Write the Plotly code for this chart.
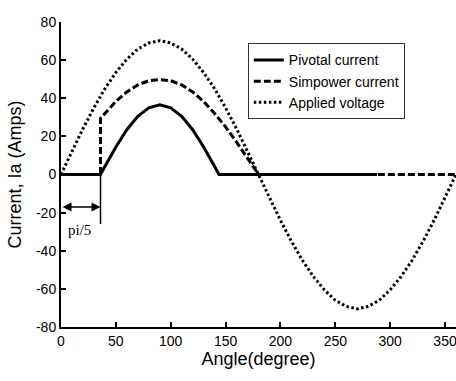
import plotly.graph_objects as go

# Applied voltage (read every 10 degrees)
volt_angle = list(range(0, 361, 10))
volt_values = [0, 12, 24, 35, 45, 53.5, 60.5, 65.8, 69, 70.2, 69, 65.8, 60.5, 53.5, 45, 35, 24, 12,
               0, -12, -24, -35, -45, -53.5, -60.5, -66, -69.2, -70.5, -69.2, -66, -60.5, -53.5, -45,
               -35, -24, -12, 0]

# Simpower current
sim_angle = [0, 36, 36, 40, 50, 60, 70, 80, 90, 100, 110, 120, 130, 140, 150, 160, 170, 180, 360]
sim_values = [0, 0, 29.5, 32, 38.3, 43.3, 47, 49.2, 49.8, 49.2, 47, 43.3, 38.3, 32, 25, 17, 8.7, 0, 0]

# Pivotal current
piv_angle = [0, 36, 40, 50, 60, 70, 80, 90, 100, 110, 120, 130, 140, 144, 288]
piv_values = [0, 0, 4.2, 14.4, 23.5, 30.5, 35, 36.5, 35, 30.5, 23.5, 14.4, 4.2, 0, 0]

# annotation values
pi5_angle = 36
arrow_level = -17
marker_bottom = -26
label_angle = 17
label_level = -29

x_ticks = [0, 50, 100, 150, 200, 250, 300, 350]
x_tick_text = ["0", "50", "100", "150", "200", "250", "300", "350"]
y_ticks = [-80, -60, -40, -20, 0, 20, 40, 60, 80]
y_tick_text = ["-80", "-60", "-40", "-20", "0", "20", "40", "60", "80"]

fig = go.Figure()
fig.add_trace(go.Scatter(x=piv_angle, y=piv_values, mode="lines", name="Pivotal current",
                         line=dict(color="black", width=3)))
fig.add_trace(go.Scatter(x=sim_angle, y=sim_values, mode="lines", name="Simpower current",
                         line=dict(color="black", width=3, dash="7px,3px")))
fig.add_trace(go.Scatter(x=volt_angle, y=volt_values, mode="lines", name="Applied voltage",
                         line=dict(color="black", width=3, dash="2.5px,2.5px")))

# vertical marker line at pi/5
fig.add_shape(type="line", x0=pi5_angle, x1=pi5_angle, y0=0, y1=marker_bottom,
              xref="x", yref="y", line=dict(color="black", width=1.5))
# double arrow
fig.add_annotation(x=pi5_angle, y=arrow_level, ax=0, ay=arrow_level, xref="x", yref="y",
                   axref="x", ayref="y", showarrow=True, arrowhead=2, startarrowhead=2,
                   arrowside="end+start", arrowwidth=1.5, arrowsize=1.2, arrowcolor="black", text="")
fig.add_annotation(x=label_angle, y=label_level, xref="x", yref="y", showarrow=False,
                   text="pi/5", font=dict(family="Liberation Serif, Times New Roman, serif",
                                          size=15, color="black"))

tick_font = dict(family="Liberation Sans, Arial", size=14, color="black")
title_font = dict(family="Liberation Sans, Arial", size=18, color="black")

fig.update_layout(
    width=456, height=381,
    margin=dict(l=61, r=0, t=22, b=54),
    paper_bgcolor="white", plot_bgcolor="white",
    showlegend=True,
    legend=dict(x=0.473, y=0.93, xanchor="left", yanchor="top",
                bordercolor="#333", borderwidth=1, bgcolor="white",
                font=dict(family="Liberation Sans, Arial", size=14, color="black"),
                tracegroupgap=0),
    xaxis=dict(range=[0, 360], tickvals=x_ticks, ticktext=x_tick_text, showline=True,
               linecolor="black", linewidth=2, ticklabeloverflow="allow",
               ticks="inside", ticklen=5, tickwidth=1.5, tickcolor="black", showgrid=False,
               zeroline=False, tickfont=tick_font,
               title=dict(text="Angle(degree)", font=title_font, standoff=4)),
    yaxis=dict(range=[-80, 80], tickvals=y_ticks, ticktext=y_tick_text, showline=True,
               linecolor="black", linewidth=2,
               ticks="inside", ticklen=5, tickwidth=1.5, tickcolor="black", showgrid=False,
               zeroline=False, tickfont=tick_font,
               title=dict(text="Current, Ia (Amps)", font=title_font, standoff=10)),
)

fig.write_html("out.html")
